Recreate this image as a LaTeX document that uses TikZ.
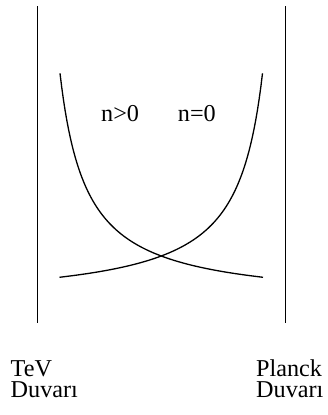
\documentclass[tikz,border=0pt]{standalone}
\usepackage{fontspec}
\setmainfont{Liberation Serif}
\begin{document}
\begin{tikzpicture}[x=1pt,y=-1pt]
		\tikzstyle{wall} = [line width=1.3pt]
		\tikzstyle{potential} = [line width=1.3pt, samples=120]
		\tikzstyle{walltext} = [anchor=base west, inner sep=0pt, font=\fontsize{24.2}{29}\selectfont]
		\tikzstyle{regiontext} = [anchor=base west, inner sep=0pt, font=\fontsize{24.2}{29}\selectfont]
		\useasboundingbox (0,0) rectangle (327,415);

		% Define the two walls
		\coordinate (TeVtop) at (37.7,6);
		\coordinate (TeVbot) at (37.7,323);
		\coordinate (Pltop) at (285.7,6);
		\coordinate (Plbot) at (285.7,323);
		\draw[wall] (TeVtop) -- (TeVbot);
		\draw[wall] (Pltop) -- (Plbot);

		% Curves crossing near the bottom
		\draw[potential, domain=60:263] plot (\x, {304-6137/(\x-33.4)});
		\draw[potential, domain=59.5:262.5] plot (\x, {304-6137/(289.1-\x)});

		% Region labels
		\node[regiontext] (Npos) at (101,121.7) {n>0};
		\node[regiontext] (Nzero) at (177.7,121.7) {n=0};

		% Wall labels
		\node[walltext] (TeV) at (10.5,376.7) {TeV};
		\node[walltext] (TeVD) at (10.5,397.7) {Duvarı};
		\node[walltext] (Pl) at (256,376.7) {Planck};
		\node[walltext] (PlD) at (256,397.7) {Duvarı};

		\end{tikzpicture}
\end{document}
